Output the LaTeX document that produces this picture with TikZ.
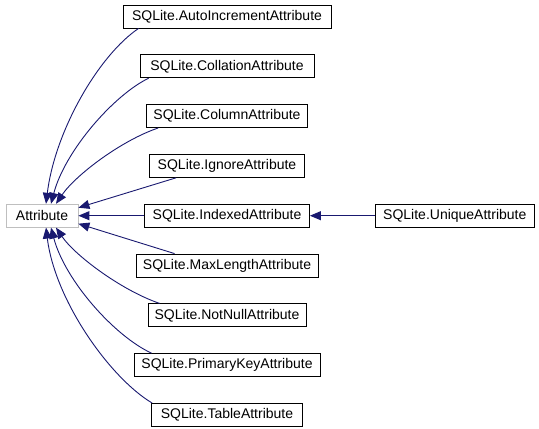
\documentclass[tikz,border=0pt]{standalone}
\usepackage{fontspec}
\setmainfont{Liberation Sans}
\usetikzlibrary{arrows.meta,positioning}
\definecolor{EdgeBlue}{RGB}{25,25,112}
\definecolor{BaseGray}{RGB}{191,191,191}
\tikzset{
  cls/.style={draw=black,fill=white,line width=0.8pt,minimum height=23pt,
    inner xsep=0pt,inner ysep=2pt,font=\fontsize{14}{16}\selectfont},
  base/.style={cls,draw=BaseGray},
  edge/.style={-{Triangle[length=11pt,width=9pt]},line width=0.9pt,EdgeBlue}
}
\begin{document}
\begin{tikzpicture}[x=1pt,y=-1pt,node distance=26pt]
      \useasboundingbox (0,0) rectangle (539,429);
      \node[cls,minimum width=208pt] (auto) at (227,16.5) {SQLite.AutoIncrementAttribute};
      \node[cls,minimum width=174pt,below=of auto] (coll) {SQLite.CollationAttribute};
      \node[cls,minimum width=161pt,below=of coll] (col) {SQLite.ColumnAttribute};
      \node[cls,minimum width=155pt,below=of col] (ign) {SQLite.IgnoreAttribute};
      \node[cls,minimum width=165pt,below=of ign] (idx) {SQLite.IndexedAttribute};
      \node[cls,minimum width=182pt,below=of idx] (maxl) {SQLite.MaxLengthAttribute};
      \node[cls,minimum width=158pt,below=of maxl] (nn) {SQLite.NotNullAttribute};
      \node[cls,minimum width=186pt,below=of nn] (pk) {SQLite.PrimaryKeyAttribute};
      \node[cls,minimum width=151pt,below=of pk] (tab) {SQLite.TableAttribute};
      \node[cls,minimum width=159pt,right=65pt of idx] (uniq) {SQLite.UniqueAttribute};
      \node[base,minimum width=72pt] (attr) at (idx -| 42,0) {Attribute};
      % inheritance edges
      \draw[edge] ([xshift=16pt]auto.south west) .. controls +(-40,27) and +(9,-73) .. ([xshift=4pt]attr.north);
      \draw[edge] ([xshift=9pt]coll.south west) .. controls +(-35,17) and +(14,-53) .. ([xshift=9pt]attr.north);
      \draw[edge] ([xshift=12pt]col.south west) .. controls +(-38,13) and +(19,-28) .. ([xshift=14pt]attr.north);
      \draw[edge] ([xshift=27pt]ign.south west) -- ([yshift=8pt]attr.east);
      \draw[edge] (idx) -- (attr);
      \draw[edge] ([xshift=39pt]maxl.north west) -- ([yshift=-8pt]attr.east);
      \draw[edge] ([xshift=12pt]nn.north west) .. controls +(-38,-13) and +(19,28) .. ([xshift=14pt]attr.south);
      \draw[edge] ([xshift=18pt]pk.north west) .. controls +(-37,-17) and +(14,53) .. ([xshift=9pt]attr.south);
      \draw[edge] ([xshift=1pt]tab.north west) .. controls +(-42,-25) and +(9,73) .. ([xshift=4pt]attr.south);
      \draw[edge] (uniq) -- (idx);
    \end{tikzpicture}
\end{document}
